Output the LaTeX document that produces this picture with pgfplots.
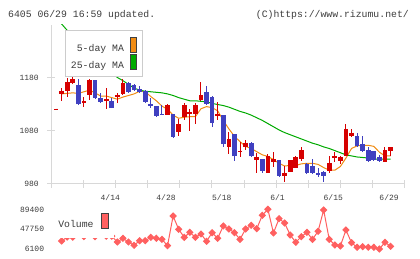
\documentclass[border=0pt]{standalone}
\usepackage{fontspec}
\setmainfont{Liberation Mono}
\usepackage{pgfplots}
\usepackage{pgfplotstable}
\pgfplotsset{compat=1.18}

\definecolor{candleup}{RGB}{214,0,0}
\definecolor{candledown}{RGB}{64,64,192}
\definecolor{maFive}{RGB}{240,140,20}
\definecolor{maTwentyFive}{RGB}{0,170,0}
\definecolor{volred}{RGB}{255,96,96}
\definecolor{axisgray}{RGB}{216,216,216}
\definecolor{labelgray}{RGB}{60,60,60}

% daily candles, index 0 = 3/31 ... 60 = 6/29
\pgfplotstableread{
i o h l c
0 1120 1122 1120 1122
1 1150 1162 1137 1156
2 1156 1180 1145 1172
3 1171 1191 1168 1178
5 1132 1145 1125 1136
6 1147 1178 1138 1176
9 1137 1161 1121 1141
11 1144 1151 1133 1148
12 1149 1179 1147 1170
20 1111 1130 1110 1129
22 1079 1103 1071 1093
23 1107 1132 1101 1129
24 1112 1122 1080 1115
25 1112 1132 1094 1129
26 1138 1173 1137 1148
29 1109 1135 1101 1112
31 1050 1078 1037 1065
33 1040 1059 1031 1043
34 1050 1063 1044 1058
36 1026 1039 1001 1030
38 1001 1037 1001 1032
39 1022 1041 1013 1027
41 996 1014 984 1001
42 1003 1026 1002 1025
43 1011 1033 1010 1030
44 1027 1049 1024 1044
49 1005 1033 1000 1020
50 1029 1040 1022 1032
51 1024 1032 1017 1030
52 1033 1094 1033 1084
53 1071 1084 1068 1077
59 1022 1049 1021 1044
60 1043 1050 1033 1049
}\upcandles

\pgfplotstableread{
i o h l c
4 1167 1178 1129 1130
7 1176 1177 1140 1142
8 1143 1151 1134 1135
10 1137 1142 1123 1123
13 1170 1172 1152 1154
14 1167 1168 1156 1157
15 1159 1165 1151 1154
16 1156 1157 1134 1135
17 1131 1143 1123 1128
18 1127 1128 1108 1109
19 1113 1129 1111 1111
21 1112 1113 1066 1069
27 1154 1165 1130 1131
28 1144 1146 1088 1096
30 1110 1111 1050 1055
32 1074 1075 1024 1032
35 1058 1059 1031 1032
37 1027 1028 1000 1005
40 1025 1026 995 996
45 1018 1019 1000 1001
46 1014 1027 1000 1001
47 1001 1010 994 997
48 1003 1005 983 996
54 1071 1076 1051 1052
55 1055 1071 1041 1042
56 1044 1049 1022 1024
57 1042 1043 1024 1025
58 1030 1035 1023 1024
}\downcandles

\pgfplotstableread{
i ma5 ma25
1 1150 1282
2 1151 1270
3 1152 1260
4 1151 1250
5 1154 1240
6 1157 1229
7 1152 1219
8 1146 1209
9 1146 1199
10 1143 1190
11 1140 1181
12 1144 1175
13 1147 1168
14 1150 1161
15 1155 1157
16 1154 1155
17 1145 1154
18 1137 1153
19 1127 1152
20 1121 1150
21 1110 1147
22 1104 1143
23 1106 1140
24 1107 1137
25 1107 1137
26 1122 1136
27 1126 1135
28 1124 1132
29 1118 1130
30 1100 1128
31 1084 1125
32 1070 1121
33 1060 1117
34 1051 1114
35 1047 1110
36 1041 1105
37 1035 1100
38 1032 1094
39 1026 1088
40 1019 1082
41 1014 1077
42 1015 1073
43 1015 1069
44 1018 1065
45 1019 1061
46 1019 1057
47 1017 1054
48 1011 1050
49 1006 1047
50 1006 1043
51 1013 1039
52 1029 1035
53 1047 1033
54 1052 1031
55 1053 1030
56 1053 1029
57 1051 1027
58 1040 1027
59 1033 1027
60 1033 1027
}\averages

\pgfplotstableread{
i vol
1 22900
2 31000
3 31000
4 40000
5 32000
6 42000
7 32000
8 40000
9 33000
10 33000
11 20800
12 28500
13 20800
14 13900
15 23500
16 23500
17 30600
18 28500
19 26400
20 13000
21 75300
22 47400
23 30600
24 41100
25 30600
26 37600
27 22300
28 40300
29 28500
30 54400
31 48100
32 40300
33 26400
34 48100
35 55800
36 48700
37 76800
38 89400
39 39700
40 69700
41 60600
42 35500
43 20200
44 32000
45 41100
46 26400
47 43200
48 88000
49 26400
50 14500
51 12400
52 46000
53 19300
54 9700
55 11000
56 9700
57 9700
58 6100
59 20200
60 11800
}\volumes

\begin{document}
\begin{tikzpicture}
\useasboundingbox (0,0) rectangle (420bp,259bp);

\node[anchor=base west, inner sep=0pt, text=labelgray,
      font=\fontsize{9.8bp}{10bp}\selectfont] at (8bp,241.7bp) {6405 06/29 16:59 updated.};
\node[anchor=base east, inner sep=0pt, text=labelgray,
      font=\fontsize{9.8bp}{10bp}\selectfont] at (409bp,241.7bp) {(C)https://www.rizumu.net/};

% price panel
\begin{axis}[
  at={(51bp,75bp)}, anchor=south west,
  scale only axis, width=354bp, height=159bp,
  xmin=-0.897, xmax=62.59, ymin=980, ymax=1280,
  axis x line*=bottom, axis y line*=left,
  axis line style={draw=axisgray, line width=1bp, -},
  xtick={-0.897,4.874,10.645,16.416,22.187,27.958,33.729,39.5,45.271,51.042,56.813,62.584},
  xticklabels={},
  extra x ticks={10,20,30,40,50,60},
  extra x tick labels={4/14,4/28,5/18,6/1,6/15,6/29},
  extra x tick style={major tick length=0pt},
  ytick={980,1080,1180},
  yticklabels={980,1080,1180},
  scaled ticks=false,
  tick align=center, major tick length=8bp,
  tick style={draw=axisgray, line width=1bp},
  /pgf/number format/assume math mode=true,
  ticklabel style={font=\fontsize{8bp}{8bp}\selectfont, text=labelgray},
  xticklabel style={anchor=north, inner sep=0pt, text height=5.5bp, text depth=0pt, yshift=-11bp, xshift=-1.5bp},
  yticklabel style={anchor=east, inner sep=0pt, text height=5.5bp, text depth=0pt, xshift=-8bp},
  legend style={at={(0.0395,0.9686)}, anchor=north west,
    draw=black!20, line width=1bp, fill=white,
    inner xsep=5.5bp, inner ysep=7bp,
    font=\fontsize{9.8bp}{10bp}\selectfont, text=labelgray,
    row sep=1bp, column sep=6bp, nodes={inner sep=0pt}},
  legend cell align=right,
  legend plot pos=right,
]
\addplot[maFive, line width=1bp,
  legend image code/.code={\draw[fill=maFive, draw=black!75, line width=0.7bp] (0bp,-4bp) rectangle (6bp,11bp);}]
  table[x=i, y=ma5] {\averages};
\addlegendentry{5-day MA}
\addplot[maTwentyFive, line width=1bp,
  legend image code/.code={\draw[fill=maTwentyFive, draw=black!75, line width=0.7bp] (0bp,-4bp) rectangle (6bp,11bp);}]
  table[x=i, y=ma25] {\averages};
\addlegendentry{25-day MA}

% wicks
\addplot[draw=none, mark=none, forget plot,
  error bars/.cd, y dir=both, y explicit, error mark=none,
  error bar style={draw=candleup, line width=1bp}]
  table[x=i, y=c, y error plus expr=\thisrow{h}-\thisrow{c}, y error minus expr=\thisrow{c}-\thisrow{l}] {\upcandles};
\addplot[draw=none, mark=none, forget plot,
  error bars/.cd, y dir=both, y explicit, error mark=none,
  error bar style={draw=candledown, line width=1bp}]
  table[x=i, y=c, y error plus expr=\thisrow{h}-\thisrow{c}, y error minus expr=\thisrow{c}-\thisrow{l}] {\downcandles};
% bodies, open to close
\addplot[draw=none, mark=none, forget plot,
  error bars/.cd, y dir=both, y explicit, error mark=none,
  error bar style={draw=candleup, line width=4.7bp}]
  table[x=i, y=c, y error plus expr=0, y error minus expr=\thisrow{c}-\thisrow{o}] {\upcandles};
\addplot[draw=none, mark=none, forget plot,
  error bars/.cd, y dir=both, y explicit, error mark=none,
  error bar style={draw=candledown, line width=4.7bp}]
  table[x=i, y=c, y error plus expr=\thisrow{o}-\thisrow{c}, y error minus expr=0] {\downcandles};
\end{axis}

% volume panel
\begin{axis}[
  at={(51bp,10bp)}, anchor=south west,
  scale only axis, width=354bp, height=39.7bp,
  xmin=-0.897, xmax=62.59, ymin=6100, ymax=89400,
  axis x line=none, axis y line*=left,
  axis line style={draw=none},
  xtick=\empty,
  ytick={6100,47750,89400},
  yticklabels={6100,47750,89400},
  scaled ticks=false,
  major tick length=0pt, tick style={draw=none},
  /pgf/number format/assume math mode=true,
  ticklabel style={font=\fontsize{8bp}{8bp}\selectfont, text=labelgray},
  yticklabel style={anchor=east, inner sep=0pt, text height=5.5bp, text depth=0pt, xshift=-6.7bp},
  clip=false,
  legend style={at={(0.003,1.133)}, anchor=north west,
    draw=none, fill=white,
    inner xsep=6bp, inner ysep=9bp,
    font=\fontsize{9.8bp}{10bp}\selectfont, text=labelgray,
    column sep=7bp, nodes={inner sep=0pt}},
  legend plot pos=right,
]
\addplot[volred, line width=1bp, mark=diamond*, mark size=3bp,
  mark options={xscale=1.33, fill=volred, draw=volred},
  legend image code/.code={\draw[fill=volred, draw=black!75, line width=0.7bp] (0bp,-4bp) rectangle (7bp,11bp);}]
  table[x=i, y=vol] {\volumes};
\addlegendentry{Volume}
\end{axis}
\end{tikzpicture}
\end{document}
